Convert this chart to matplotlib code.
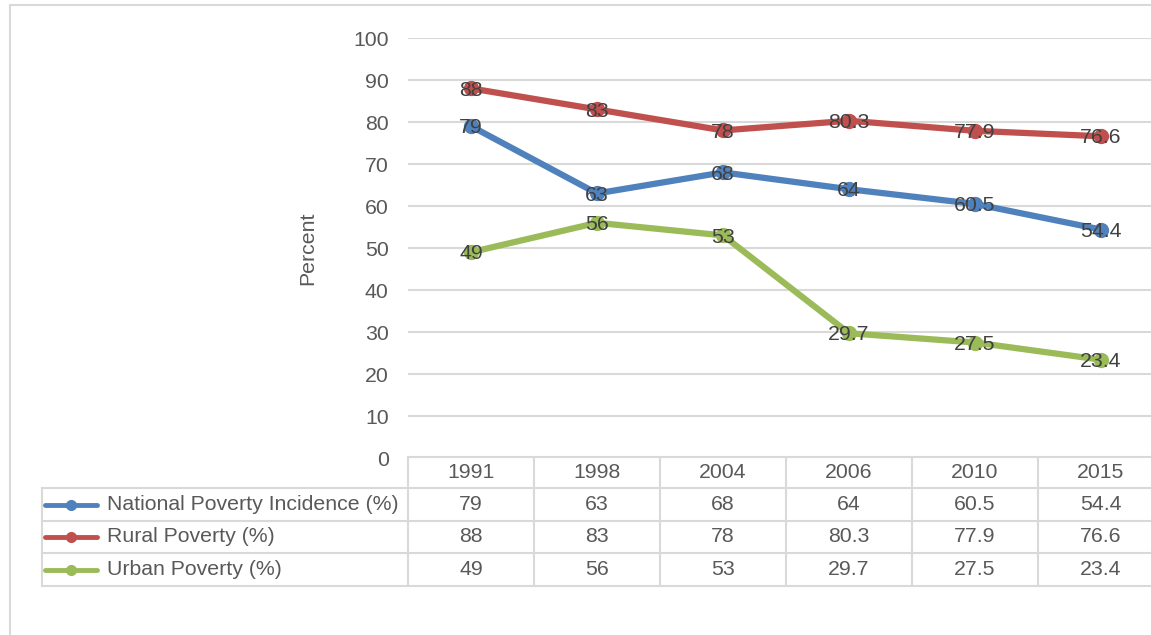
import matplotlib
matplotlib.use('Agg')
import matplotlib.pyplot as plt
from matplotlib.lines import Line2D

plt.rcParams['font.family'] = ['Liberation Sans', 'DejaVu Sans']

# data
years = ['1991', '1998', '2004', '2006', '2010', '2015']
national = [79, 63, 68, 64, 60.5, 54.4]
rural = [88, 83, 78, 80.3, 77.9, 76.6]
urban = [49, 56, 53, 29.7, 27.5, 23.4]
series_names = ['National Poverty Incidence (%)', 'Rural Poverty (%)', 'Urban Poverty (%)']
series_colors = ['#4f81bd', '#c0504d', '#9bbb59']
yticks = list(range(0, 101, 10))

W, H = 1151, 635
fig = plt.figure(figsize=(W / 100, H / 100), dpi=100)
fig.patch.set_facecolor('white')

grey = '#d9d9d9'
txt = '#595959'
fs = 15.3

# outer chart border (cropped at right/bottom)
fig.add_artist(Line2D([10 / W, 10 / W], [0, 1 - 5 / H], color=grey, lw=1.5))
fig.add_artist(Line2D([10 / W, 1], [1 - 5 / H, 1 - 5 / H], color=grey, lw=1.5))

# plot area in pixels: x 408..1164, y 38..458
px0, px1, py0, py1 = 408, 1164, 38, 458
ax = fig.add_axes([px0 / W, 1 - py1 / H, (px1 - px0) / W, (py1 - py0) / H])
ax.set_facecolor('none')
x = list(range(len(years)))
all_series = [national, rural, urban]
for vals, c in zip(all_series, series_colors):
    ax.plot(x, vals, color=c, lw=4.5, marker='o', ms=10, solid_capstyle='round', zorder=3)
    for xi, v in zip(x, vals):
        ax.text(xi, v - 0.4, f'{v:g}', ha='center', va='center', fontsize=fs, color='#404040', zorder=4)

ax.set_xlim(-0.5, len(years) - 0.5)
ax.set_ylim(0, 100)
ax.set_yticks(yticks)
ax.yaxis.grid(True, color=grey, lw=1.5)
ax.set_axisbelow(True)
ax.tick_params(axis='y', length=0, pad=14, labelsize=fs, labelcolor=txt)
ax.tick_params(axis='x', length=0, labelbottom=False)
for s in ax.spines.values():
    s.set_visible(False)
ax.set_ylabel('Percent', fontsize=fs, color=txt, labelpad=26)

# data table underneath, drawn in an overlay axis (x in category units, y in pixels)
unit = (px1 - px0) / len(years)
tab = fig.add_axes([0, 0, 1, 1])
tab.set_xlim(-0.5 - px0 / unit, -0.5 + (W - px0) / unit)
tab.set_ylim(H, 0)
tab.axis('off')

rows = [457, 488, 521, 553, 586]
leg_left = -0.5 - (px0 - 42) / unit
ncol = len(years)
lkw = dict(color=grey, lw=1.5, clip_on=False)
# horizontal lines
tab.plot([-0.5, ncol - 0.5 + 1], [rows[0], rows[0]], **lkw)
for r in rows[1:]:
    tab.plot([leg_left, ncol - 0.5 + 1], [r, r], **lkw)
# vertical lines
tab.plot([leg_left, leg_left], [rows[1], rows[-1]], **lkw)
for i in range(ncol + 1):
    tab.plot([i - 0.5, i - 0.5], [rows[0], rows[-1]], **lkw)

for i, yr in enumerate(years):
    tab.text(i, (rows[0] + rows[1]) / 2, yr, ha='center', va='center', fontsize=fs, color=txt)
for k, (name, vals, c) in enumerate(zip(series_names, all_series, series_colors)):
    yc = (rows[k + 1] + rows[k + 2]) / 2
    for i, v in enumerate(vals):
        tab.text(i, yc, f'{v:g}', ha='center', va='center', fontsize=fs, color=txt)
    lx0 = leg_left + 3 / unit
    lx1 = leg_left + 55 / unit
    tab.plot([lx0, lx1], [yc, yc], color=c, lw=3.5, solid_capstyle='round')
    tab.plot([(lx0 + lx1) / 2], [yc], marker='o', color=c, ms=7)
    tab.text(leg_left + 65 / unit, yc, name, ha='left', va='center', fontsize=fs, color=txt)

fig.savefig('out.png', dpi=100)
